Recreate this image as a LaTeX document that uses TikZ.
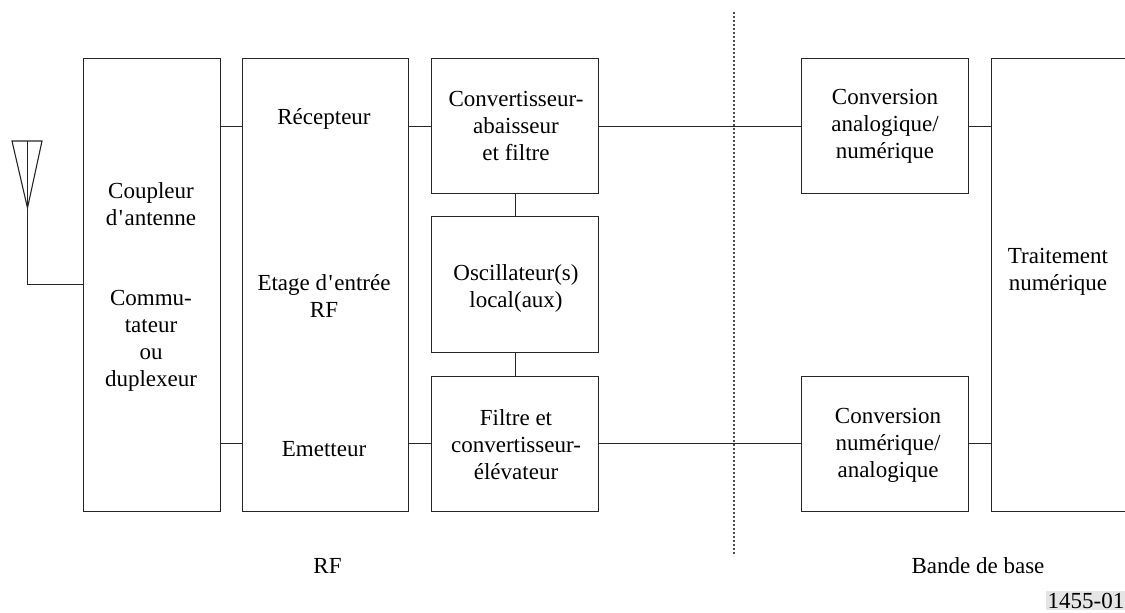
\documentclass[tikz,border=0pt]{standalone}
\usepackage{fontspec}
\newfontfamily\tms{Liberation Serif}
\newcommand{\apos}{\kern1.5pt'\kern1.5pt}
\tikzset{
  bx/.style={draw=black!85,line width=1.1pt,minimum width=#1,inner sep=0pt,outer sep=0pt,anchor=north west,rectangle},
  lbl/.style={align=center,font=\tms\fontsize{23}{27}\selectfont,inner sep=0pt,anchor=center},
  ln/.style={draw=black!85,line width=1.1pt},
}
\begin{document}
\begin{tikzpicture}[x=1pt,y=-1pt]
\useasboundingbox (0,0) rectangle (1125,613);
% boxes
\node[bx=137pt,minimum height=453pt] (coup) at (83.5,58.5) {};
\node[bx=166pt,minimum height=453pt] (rf) at (242.5,58.5) {};
\node[bx=167pt,minimum height=135pt] (conv) at (431.5,58.5) {};
\node[bx=167pt,minimum height=136pt] (osc) at (431.5,216.5) {};
\node[bx=167pt,minimum height=135pt] (filt) at (431.5,376.5) {};
\node[bx=167pt,minimum height=135pt] (adc) at (801.5,58.5) {};
\node[bx=167pt,minimum height=135pt] (dac) at (801.5,376.5) {};
% open box
\coordinate (t1) at (1125,58.5);\coordinate (t2) at (991.5,58.5);\coordinate (t3) at (991.5,511.5);\coordinate (t4) at (1125,511.5);
\draw[ln] (t1)--(t2)--(t3)--(t4);
% texts
\node[lbl] (t-coup) at (151,204) {Coupleur\\d\apos antenne};
\node[lbl] (t-comm) at (151,341) {Commu-\\tateur\\ou\\duplexeur};
\node[lbl] (t-rec) at (324,119) {Récepteur};
\node[lbl] (t-etage) at (324,296) {Etage d\apos entrée\\RF};
\node[lbl] (t-em) at (324,449.5) {Emetteur};
\node[lbl] (t-conv) at (516,126) {Convertisseur-\\abaisseur\\et filtre};
\node[lbl] (t-osc) at (516,288) {Oscillateur(s)\\local(aux)};
\node[lbl] (t-filt) at (516,445) {Filtre et\\convertisseur-\\élévateur};
\node[lbl] (t-adc) at (885,126) {Conversion\\analogique/\\numérique};
\node[lbl] (t-dac) at (888,445) {Conversion\\numérique/\\analogique};
\node[lbl] (t-dsp) at (1058,272) {Traitement\\numérique};
\node[lbl] (t-rfz) at (327.5,566) {RF};
\node[lbl] (t-bb) at (978,566) {Bande de base};
\node[lbl,fill=black!10,inner xsep=1.5pt,inner ysep=2pt] (t-id) at (1086,600.5) {1455-01};
% connectors
\draw[ln] (coup.east|-0,126.5) -- (rf.west|-0,126.5);
\draw[ln] (coup.east|-0,443.5) -- (rf.west|-0,443.5);
\draw[ln] (rf.east|-0,126.5) -- (conv.west|-0,126.5);
\draw[ln] (rf.east|-0,443.5) -- (filt.west|-0,443.5);
\draw[ln] (conv.east|-0,126.5) -- (adc.west|-0,126.5);
\draw[ln] (filt.east|-0,443.5) -- (dac.west|-0,443.5);
\draw[ln] (adc.east|-0,126.5) -- (t2|-0,126.5);
\draw[ln] (dac.east|-0,443.5) -- (t2|-0,443.5);
\draw[ln] ([xshift=.5pt]conv.south) -- ([xshift=.5pt]osc.north);
\draw[ln] ([xshift=.5pt]osc.south) -- ([xshift=.5pt]filt.north);
% antenna
\coordinate (a1) at (12,141);\coordinate (a2) at (42,141);\coordinate (a3) at (27.5,208);\coordinate (a4) at (27.5,141);\coordinate (a5) at (27.5,284.5);
\draw[ln,line join=miter] (a1)--(a2)--(a3)--cycle;
\draw[ln] (a4)--(a5)--(coup.west|-a5);
% separator
\coordinate (s1) at (734,12);\coordinate (s2) at (734,556);
\draw[black!70,line width=1.1pt,dash pattern=on 2pt off 2pt] (s1)--(s2);
\end{tikzpicture}
\end{document}
